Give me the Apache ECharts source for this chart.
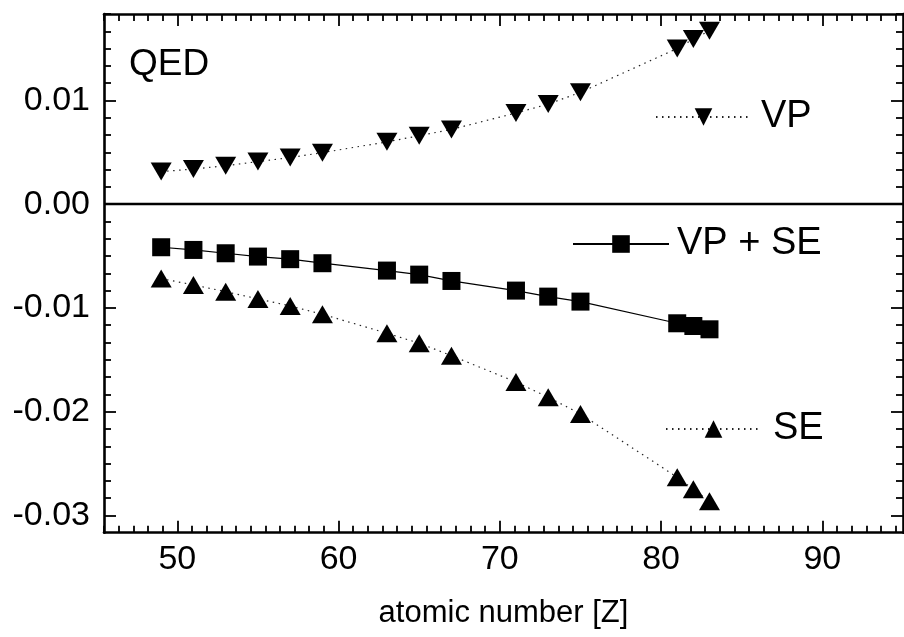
<!DOCTYPE html>
<html>
<head>
<meta charset="utf-8">
<script src="https://cdn.jsdelivr.net/npm/echarts@6/dist/echarts.min.js"></script>
<style>
  html, body { margin: 0; padding: 0; background: #fff; }
  #chart { width: 904px; height: 637px; }
</style>
</head>
<body>
<div id="chart"></div>
<script>
// Atomic numbers of the computed ions
const Z = [49, 51, 53, 55, 57, 59, 63, 65, 67, 71, 73, 75, 81, 82, 83];
// Vacuum polarization contribution
const vp = [0.00314, 0.00339, 0.00371, 0.00411, 0.00450, 0.00497, 0.00601, 0.00660, 0.00721, 0.00879, 0.00965, 0.01078, 0.01501, 0.01592, 0.01672];
// Self-energy contribution
const se = [-0.00717, -0.00778, -0.00843, -0.00913, -0.00981, -0.01061, -0.01244, -0.01340, -0.01460, -0.01714, -0.01861, -0.02022, -0.02632, -0.02748, -0.02863];
// Total QED (VP + SE)
const vpse = [-0.00415, -0.00441, -0.00473, -0.00505, -0.00530, -0.00569, -0.00640, -0.00679, -0.00740, -0.00833, -0.00891, -0.00939, -0.01148, -0.01174, -0.01206];

// Axis ticks
const xMajor = [50, 60, 70, 80, 90];
const yMajor = [-0.03, -0.02, -0.01, 0.00, 0.01];
const xMinorPerMajor = 11;   // minor intervals per major step
const yMinorPerMajor = 6;

const X_STEP = 10, Y_STEP = 0.01;
const X_MIN = 50 - 5 * X_STEP / xMinorPerMajor;
const X_MAX = 95;
const Y_MIN = -0.03 - Y_STEP / yMinorPerMajor;
const Y_MAX = 0.01 + 5 * Y_STEP / yMinorPerMajor;

function minorTicks(min, max, anchor, step, n) {
  const out = [];
  const d = step / n;
  const k0 = Math.ceil((min - anchor) / d - 1e-6);
  for (let k = k0; anchor + k * d <= max + 1e-9; k++) {
    if (((k % n) + n) % n !== 0) out.push(anchor + k * d);
  }
  return out;
}
const xMinor = minorTicks(X_MIN, X_MAX, 50, X_STEP, xMinorPerMajor);
const yMinor = minorTicks(Y_MIN, Y_MAX, 0, Y_STEP, yMinorPerMajor);

const FONT = 'Liberation Sans, Arial, Helvetica, sans-serif';
const FRAME = 2.6;

function xAxisDef(position, values, len, showLine, showLabel, extra) {
  return Object.assign({
    type: 'value', position: position, min: X_MIN, max: X_MAX,
    splitLine: { show: false },
    axisLine: { show: showLine, onZero: false, lineStyle: { color: '#000', width: FRAME } },
    axisTick: { show: true, inside: true, length: len, customValues: values, lineStyle: { color: '#000', width: 1.8 } },
    axisLabel: showLabel
      ? { show: true, customValues: values, margin: 10, color: '#000', fontSize: 34, fontFamily: FONT, formatter: v => String(Math.round(v)) }
      : { show: false }
  }, extra || {});
}
function yAxisDef(position, values, len, showLine, showLabel) {
  return {
    type: 'value', position: position, min: Y_MIN, max: Y_MAX,
    splitLine: { show: false },
    axisLine: { show: showLine, onZero: false, lineStyle: { color: '#000', width: FRAME } },
    axisTick: { show: true, inside: true, length: len, customValues: values, lineStyle: { color: '#000', width: 1.8 } },
    axisLabel: showLabel
      ? { show: true, customValues: values, margin: 14, color: '#000', fontSize: 34, fontFamily: FONT, formatter: v => (Math.abs(v) < 1e-9 ? 0 : v).toFixed(2) }
      : { show: false }
  };
}

const pairs = arr => Z.map((z, i) => [z, arr[i]]);
const dotted = { color: '#222', width: 1.2, type: [1.5, 4.5] };

const chart = echarts.init(document.getElementById('chart'), null, { renderer: 'canvas' });
chart.setOption({
  animation: false,
  backgroundColor: '#fff',
  grid: { left: 104, right: 1, top: 14, bottom: 104.3, containLabel: false },
  title: {
    text: 'QED', left: 129, top: 46, padding: 0,
    textStyle: { fontSize: 37, fontWeight: 'normal', color: '#000', fontFamily: FONT }
  },
  xAxis: [
    xAxisDef('bottom', xMajor, 12, true, true, {
      name: 'atomic number [Z]', nameLocation: 'middle', nameGap: 65,
      nameTextStyle: { fontSize: 31, color: '#000', fontFamily: FONT }
    }),
    xAxisDef('bottom', xMinor, 7, false, false),
    xAxisDef('top', xMajor, 12, true, false),
    xAxisDef('top', xMinor, 7, false, false)
  ],
  yAxis: [
    yAxisDef('left', yMajor, 12, true, true),
    yAxisDef('left', yMinor, 7, false, false),
    yAxisDef('right', yMajor, 12, true, false),
    yAxisDef('right', yMinor, 7, false, false)
  ],
  legend: [
    { data: ['VP'], left: 655, top: 98, padding: 0, selectedMode: false, itemWidth: 95, itemHeight: 22,
      textStyle: { fontSize: 38, color: '#000', fontFamily: FONT, padding: [0, 0, 0, 5] } },
    { data: ['VP + SE'], left: 572, top: 225, padding: 0, selectedMode: false, itemWidth: 96, itemHeight: 22,
      textStyle: { fontSize: 38, color: '#000', fontFamily: FONT, padding: [0, 0, 0, 3] } },
    { data: ['SE'], left: 665, top: 410, padding: 0, selectedMode: false, itemWidth: 95, itemHeight: 22,
      textStyle: { fontSize: 38, color: '#000', fontFamily: FONT, padding: [0, 0, 0, 7] } }
  ],
  series: [
    {
      name: 'VP', type: 'line', data: pairs(vp),
      symbol: 'triangle', symbolSize: [21, 18], symbolRotate: 180,
      itemStyle: { color: '#000', borderWidth: 0 }, lineStyle: dotted, z: 3
    },
    {
      name: 'VP + SE', type: 'line', data: pairs(vpse),
      symbol: 'rect', symbolSize: 18,
      itemStyle: { color: '#000', borderWidth: 0 }, lineStyle: { color: '#000', width: 1.2, type: 'solid' }, z: 3,
      markLine: {
        silent: true, symbol: 'none', label: { show: false },
        lineStyle: { color: '#000', width: 2.4, type: 'solid' },
        data: [{ yAxis: 0 }]
      }
    },
    {
      name: 'SE', type: 'line', data: pairs(se),
      symbol: 'triangle', symbolSize: [21, 18],
      itemStyle: { color: '#000', borderWidth: 0 }, lineStyle: dotted, z: 3
    }
  ]
});
</script>
</body>
</html>
